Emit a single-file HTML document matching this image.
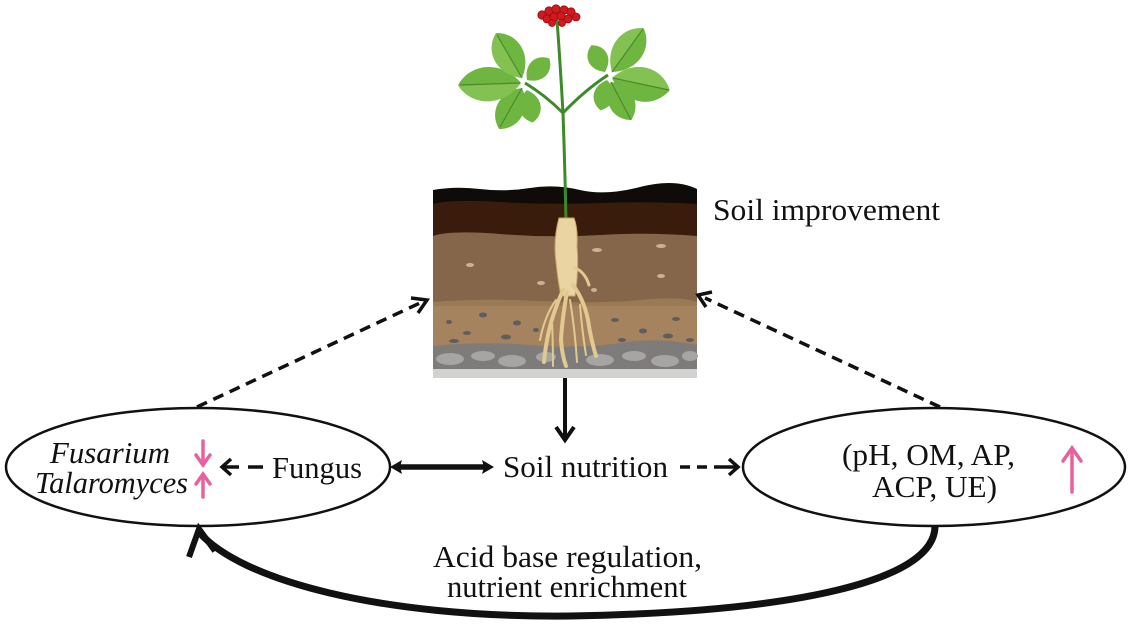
<!DOCTYPE html>
<html>
<head>
<meta charset="utf-8">
<style>
  html,body{margin:0;padding:0;background:#fff;}
  svg{display:block;}
  text{font-family:"Liberation Serif","Times New Roman",serif;font-size:31px;fill:#111;}
</style>
</head>
<body>
<svg width="1131" height="639" viewBox="0 0 1131 639" xmlns="http://www.w3.org/2000/svg">
  <rect width="1131" height="639" fill="#fff"/>

  <!-- ===== Soil block ===== -->
  <g>
    <rect x="433" y="300" width="264" height="50" fill="#a5835e"/>
    <rect x="433" y="232" width="264" height="72" fill="#86664a"/>
    <path d="M433 200 Q470 196 510 199 T590 198 T697 199 L697 236 Q650 232 600 235 T500 234 T433 236 Z" fill="#3a1c0d"/>
    <path d="M433 190 Q455 186 480 189 T530 188 T580 190 T640 187 T697 189 L697 204 Q650 201 600 203 T500 202 T433 204 Z" fill="#0f0b09"/>
    <path d="M433 302 Q480 298 540 301 T640 300 T697 302 L697 306 L433 306 Z" fill="#9a7955"/>
    <g fill="#c9b394">
      <ellipse cx="470" cy="265" rx="4" ry="2"/>
      <ellipse cx="541" cy="283" rx="4" ry="2"/>
      <ellipse cx="597" cy="250" rx="5" ry="2"/>
      <ellipse cx="661" cy="246" rx="5" ry="2"/>
      <ellipse cx="661" cy="276" rx="4" ry="2"/>
      <ellipse cx="594" cy="290" rx="3" ry="2"/>
    </g>
    <g fill="#5f5e5e">
      <ellipse cx="483" cy="315" rx="4" ry="2.5"/>
      <ellipse cx="517" cy="323" rx="4" ry="2.5"/>
      <ellipse cx="449" cy="322" rx="3" ry="2"/>
      <ellipse cx="467" cy="333" rx="4" ry="2"/>
      <ellipse cx="506" cy="337" rx="5" ry="2.5"/>
      <ellipse cx="536" cy="330" rx="3" ry="2"/>
      <ellipse cx="615" cy="320" rx="4" ry="2"/>
      <ellipse cx="643" cy="331" rx="4" ry="2.5"/>
      <ellipse cx="676" cy="319" rx="4" ry="2"/>
      <ellipse cx="668" cy="336" rx="5" ry="2.5"/>
      <ellipse cx="622" cy="340" rx="4" ry="2"/>
      <ellipse cx="454" cy="341" rx="5" ry="2"/>
      <ellipse cx="690" cy="340" rx="4" ry="2"/>
    </g>
    <path d="M433 346 Q480 341 530 345 T620 343 T697 345 L697 372 L433 372 Z" fill="#7d7c7a"/>
    <g fill="#a6a5a3">
      <ellipse cx="450" cy="359" rx="14" ry="6"/>
      <ellipse cx="483" cy="356" rx="12" ry="5"/>
      <ellipse cx="512" cy="361" rx="14" ry="6"/>
      <ellipse cx="546" cy="357" rx="10" ry="5"/>
      <ellipse cx="600" cy="360" rx="14" ry="6"/>
      <ellipse cx="634" cy="356" rx="12" ry="5"/>
      <ellipse cx="665" cy="361" rx="14" ry="6"/>
      <ellipse cx="690" cy="356" rx="8" ry="5"/>
    </g>
    <rect x="433" y="369" width="264" height="9" fill="#d2d2d0"/>
  </g>

  <!-- ===== Plant ===== -->
  <g>
    <path d="M566 222 Q565 170 563 113 Q560 60 557 20" fill="none" stroke="#3d8a28" stroke-width="3"/>
    <path d="M563 113 Q545 95 525 83" fill="none" stroke="#3d8a28" stroke-width="3"/>
    <path d="M563 113 Q585 90 608 75" fill="none" stroke="#3d8a28" stroke-width="3"/>
    <g fill="#6fb641">
      <path d="M0 0 C0.3 -1 0.8 -0.9 1 0 C0.8 0.9 0.3 1 0 0Z" transform="translate(521 83) rotate(178) scale(63 24)"/>
      <path d="M0 0 C0.3 -1 0.8 -0.9 1 0 C0.8 0.9 0.3 1 0 0Z" transform="translate(522 78) rotate(-120) scale(52 21)"/>
      <path d="M0 0 C0.3 -1 0.8 -0.9 1 0 C0.8 0.9 0.3 1 0 0Z" transform="translate(527 80) rotate(-44) scale(31 14)"/>
      <path d="M0 0 C0.3 -1 0.8 -0.9 1 0 C0.8 0.9 0.3 1 0 0Z" transform="translate(522 88) rotate(119) scale(47 19)"/>
      <path d="M0 0 C0.3 -1 0.8 -0.9 1 0 C0.8 0.9 0.3 1 0 0Z" transform="translate(527 90) rotate(80) scale(33 15)"/>
      <path d="M0 0 C0.3 -1 0.8 -0.9 1 0 C0.8 0.9 0.3 1 0 0Z" transform="translate(612 72) rotate(-54) scale(54 21)"/>
      <path d="M0 0 C0.3 -1 0.8 -0.9 1 0 C0.8 0.9 0.3 1 0 0Z" transform="translate(612 78) rotate(12) scale(59 24)"/>
      <path d="M0 0 C0.3 -1 0.8 -0.9 1 0 C0.8 0.9 0.3 1 0 0Z" transform="translate(605 72) rotate(-117) scale(30 14)"/>
      <path d="M0 0 C0.3 -1 0.8 -0.9 1 0 C0.8 0.9 0.3 1 0 0Z" transform="translate(607 80) rotate(102) scale(31 14)"/>
      <path d="M0 0 C0.3 -1 0.8 -0.9 1 0 C0.8 0.9 0.3 1 0 0Z" transform="translate(611 82) rotate(62) scale(43 18)"/>
    </g>
    <g fill="#8cc85a" opacity="0.7">
      <path d="M0 0 C0.3 -1 0.8 -0.9 1 0 Z" transform="translate(521 83) rotate(178) scale(63 24)"/>
      <path d="M0 0 C0.3 -1 0.8 -0.9 1 0 Z" transform="translate(522 78) rotate(-120) scale(52 21)"/>
      <path d="M0 0 C0.3 -1 0.8 -0.9 1 0 Z" transform="translate(612 72) rotate(-54) scale(54 21)"/>
      <path d="M0 0 C0.3 -1 0.8 -0.9 1 0 Z" transform="translate(612 78) rotate(12) scale(59 24)"/>
    </g>
    <g stroke="#4a8a2a" stroke-width="1.2" fill="none">
      <line x1="520" y1="83" x2="460" y2="85"/>
      <line x1="522" y1="78" x2="497" y2="35"/>
      <line x1="522" y1="88" x2="500" y2="127"/>
      <line x1="612" y1="72" x2="643" y2="29"/>
      <line x1="613" y1="78" x2="669" y2="90"/>
      <line x1="611" y1="82" x2="631" y2="120"/>
    </g>
    <g fill="#d11a1f" stroke="#9a0c10" stroke-width="0.8">
      <circle cx="542" cy="15" r="4.2"/>
      <circle cx="549" cy="11" r="4.2"/>
      <circle cx="556" cy="9" r="4.2"/>
      <circle cx="564" cy="10" r="4.2"/>
      <circle cx="571" cy="12" r="4.2"/>
      <circle cx="576" cy="17" r="4"/>
      <circle cx="547" cy="19" r="4"/>
      <circle cx="554" cy="17" r="4.2"/>
      <circle cx="561" cy="16" r="4.2"/>
      <circle cx="568" cy="19" r="4"/>
      <circle cx="552" cy="23" r="3.5"/>
      <circle cx="562" cy="23" r="3.5"/>
    </g>
    <g stroke="#c8a466" fill="#ead5a2" stroke-width="1">
      <path d="M559 218 Q553 240 556 262 Q558 282 561 296 L575 296 Q579 270 577 246 Q578 228 574 218 Z"/>
    </g>
    <g stroke="#e2c990" fill="none" stroke-linecap="round">
      <path d="M563 290 Q552 315 548 335 Q545 350 544 362" stroke-width="4"/>
      <path d="M567 292 Q562 320 561 340 Q562 355 566 366" stroke-width="4"/>
      <path d="M573 285 Q584 300 588 320 Q591 340 596 356" stroke-width="4"/>
      <path d="M575 268 Q585 272 589 285" stroke-width="3"/>
      <path d="M556 300 Q545 315 540 340" stroke-width="2"/>
      <path d="M570 300 Q575 330 577 362" stroke-width="2"/>
      <path d="M580 305 Q582 330 586 355" stroke-width="2"/>
      <path d="M552 320 Q553 345 553 366" stroke-width="2"/>
    </g>
  </g>

  <!-- ===== Ellipses ===== -->
  <ellipse cx="198" cy="467" rx="192" ry="59" fill="none" stroke="#111" stroke-width="2.5"/>
  <ellipse cx="934" cy="467" rx="191" ry="59" fill="none" stroke="#111" stroke-width="2.5"/>

  <!-- ===== Dashed diagonal arrows ===== -->
  <g stroke="#111" stroke-width="3.5" fill="none">
    <line x1="197" y1="407" x2="420" y2="303" stroke-dasharray="11 7"/>
    <polyline points="411,298 427,300 418,313"/>
    <line x1="940" y1="407" x2="705" y2="298" stroke-dasharray="11 7"/>
    <polyline points="712,292 698,295 706,307"/>
  </g>

  <!-- ===== Down arrow ===== -->
  <g stroke="#111" stroke-width="4" fill="none">
    <line x1="565" y1="378" x2="565" y2="439"/>
    <polyline points="556,427 565,440 574,427"/>
  </g>

  <!-- ===== Double arrow ===== -->
  <line x1="398" y1="467" x2="487" y2="467" stroke="#111" stroke-width="5.5"/>
  <polygon points="390,467 402,460 400,467 402,474" fill="#111"/>
  <polygon points="494,467 482,460 484,467 482,474" fill="#111"/>

  <!-- ===== Soil nutrition -> right ellipse dashed ===== -->
  <g stroke="#111" stroke-width="3.5" fill="none">
    <line x1="680" y1="467" x2="690" y2="467"/>
    <line x1="697" y1="467" x2="707" y2="467"/>
    <line x1="714" y1="467" x2="736" y2="467"/>
    <polyline points="729,459 738,467 729,475"/>
  </g>

  <!-- ===== Fungus -> left dashed ===== -->
  <g stroke="#111" stroke-width="3.5" fill="none">
    <line x1="223" y1="467" x2="239" y2="467"/>
    <line x1="248" y1="467" x2="263" y2="467"/>
    <polyline points="231,459 222,467 231,475"/>
  </g>

  <!-- ===== Pink arrows ===== -->
  <g stroke="#e8609e" stroke-width="3.5" fill="none" stroke-linecap="round">
    <line x1="203" y1="441" x2="203" y2="465"/>
    <polyline points="196,455 203,465 210,455"/>
    <line x1="203" y1="475" x2="203" y2="497"/>
    <polyline points="196,484 203,474 210,484"/>
    <line x1="1072" y1="449" x2="1072" y2="492"/>
    <polyline points="1063,461 1072,448 1081,461"/>
  </g>

  <!-- ===== Bottom curved arrow ===== -->
  <path d="M935 526 C935 580 800 612 570 616 C380 618 240 580 199 532" fill="none" stroke="#111" stroke-width="7"/>
  <polyline points="189,557 199,529 215,551" fill="none" stroke="#111" stroke-width="6"/>

  <!-- ===== Text ===== -->
  <text x="713" y="220" textLength="227" lengthAdjust="spacingAndGlyphs">Soil improvement</text>
  <text x="50" y="463" font-style="italic" textLength="120" lengthAdjust="spacingAndGlyphs">Fusarium</text>
  <text x="35" y="493" font-style="italic" textLength="153" lengthAdjust="spacingAndGlyphs">Talaromyces</text>
  <text x="272" y="478" textLength="90" lengthAdjust="spacingAndGlyphs">Fungus</text>
  <text x="503" y="477" textLength="165" lengthAdjust="spacingAndGlyphs">Soil nutrition</text>
  <text x="842" y="465" textLength="173" lengthAdjust="spacingAndGlyphs">(pH, OM, AP,</text>
  <text x="872" y="497" textLength="125" lengthAdjust="spacingAndGlyphs">ACP, UE)</text>
  <text x="433" y="567" textLength="269" lengthAdjust="spacingAndGlyphs">Acid base regulation,</text>
  <text x="447" y="597" textLength="240" lengthAdjust="spacingAndGlyphs">nutrient enrichment</text>
</svg>
</body>
</html>
